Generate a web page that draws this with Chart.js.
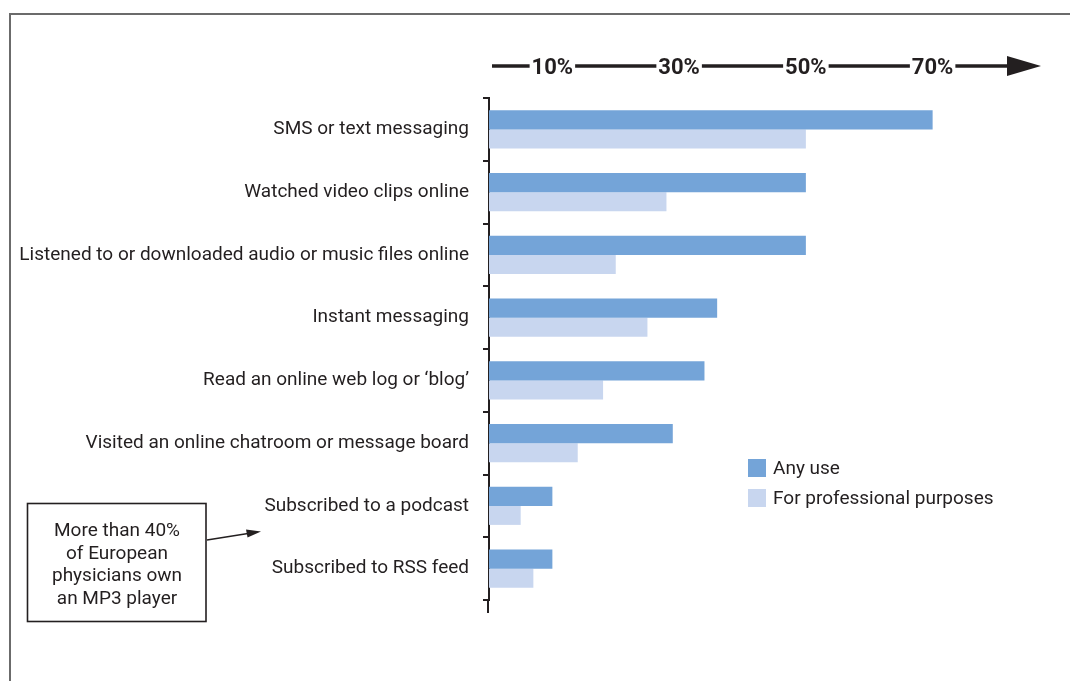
<!DOCTYPE html>
<html>
<head>
<meta charset="utf-8">
<script src="https://cdn.jsdelivr.net/npm/chart.js@4"></script>
<style>
	html, body {
		margin: 0;
		padding: 0;
		background: #ffffff;
	}
	#wrap {
		position: relative;
		width: 1070px;
		height: 681px;
		overflow: hidden;
	}
	#frame {
		position: absolute;
		left: 9px;
		top: 13px;
		width: 1200px;
		height: 800px;
		border-top: 2px solid #6b6b6b;
		border-left: 2px solid #6b6b6b;
	}
	#usage {
		position: absolute;
		left: 0;
		top: 0;
	}
</style>
</head>
<body>
<div id="wrap">
	<div id="frame"></div>
	<canvas id="usage" width="1070" height="681"></canvas>
</div>
<script>
const categories = [
	"SMS or text messaging",
	"Watched video clips online",
	"Listened to or downloaded audio or music files online",
	"Instant messaging",
	"Read an online web log or \u2018blog\u2019",
	"Visited an online chatroom or message board",
	"Subscribed to a podcast",
	"Subscribed to RSS feed"
];
const seriesLabels = ["Any use", "For professional purposes"];
const anyUse = [70, 50, 50, 36, 34, 29, 10, 10];
const professionalUse = [50, 28, 20, 25, 18, 14, 5, 7];
const axisTicks = [10, 30, 50, 70];
const noteLines = ["More than 40%", "of European", "physicians own", "an MP3 player"];

const ink = "#231f20";
const face = "Roboto, 'Liberation Sans', sans-serif";
const textSize = 19;

Chart.defaults.font.family = face;
Chart.defaults.color = ink;

// long arrow running through the percentage labels at the top
const arrowAxis = {
	id: "arrowAxis",
	beforeDraw: (chart) => {
		const {ctx, chartArea} = chart;
		const y = chartArea.top - 32;
		ctx.save();
		ctx.strokeStyle = ink;
		ctx.fillStyle = ink;
		ctx.lineWidth = 3.5;
		ctx.beginPath();
		ctx.moveTo(chartArea.left + 3, y);
		ctx.lineTo(1010, y);
		ctx.stroke();
		ctx.beginPath();
		ctx.moveTo(1007, y - 10);
		ctx.lineTo(1041, y);
		ctx.lineTo(1007, y + 10);
		ctx.closePath();
		ctx.fill();
		ctx.restore();
	}
};

// legend squares to the right of the lower bars
const boxLegend = {
	id: "boxLegend",
	afterDraw: (chart) => {
		const {ctx} = chart;
		ctx.save();
		ctx.font = textSize + "px " + face;
		ctx.textBaseline = "middle";
		ctx.textAlign = "left";
		chart.data.datasets.forEach((dataset, i) => {
			const top = 459 + i * 30;
			ctx.fillStyle = dataset.backgroundColor;
			ctx.fillRect(748, top, 18, 18);
			ctx.fillStyle = ink;
			ctx.fillText(dataset.label, 773, top + 10);
		});
		ctx.restore();
	}
};

// boxed note with its pointer, plus the tail of the category axis
const sideNote = {
	id: "sideNote",
	afterDraw: (chart) => {
		const {ctx, chartArea} = chart;
		ctx.save();
		ctx.strokeStyle = ink;
		ctx.lineWidth = 2;
		ctx.beginPath();
		ctx.moveTo(chartArea.left - 1, chartArea.bottom);
		ctx.lineTo(chartArea.left - 1, chartArea.bottom + 13);
		ctx.stroke();

		ctx.lineWidth = 1.6;
		ctx.strokeRect(27.5, 503.5, 178.5, 118);
		ctx.fillStyle = ink;
		ctx.font = textSize + "px " + face;
		ctx.textAlign = "center";
		ctx.textBaseline = "alphabetic";
		noteLines.forEach((line, i) => {
			ctx.fillText(line, 117, 536 + i * 22.7);
		});

		ctx.beginPath();
		ctx.moveTo(207, 540);
		ctx.lineTo(248, 533.5);
		ctx.stroke();
		ctx.beginPath();
		ctx.moveTo(261, 531.5);
		ctx.lineTo(246, 529.5);
		ctx.lineTo(247.5, 537.5);
		ctx.closePath();
		ctx.fill();
		ctx.restore();
	}
};

const data = {
	labels: categories,
	datasets: [
		{
			label: seriesLabels[0],
			data: anyUse,
			backgroundColor: "#74a4d8"
		},
		{
			label: seriesLabels[1],
			data: professionalUse,
			backgroundColor: "#c8d6ef"
		}
	]
};

const config = {
	type: "bar",
	data,
	options: {
		indexAxis: "y",
		responsive: false,
		maintainAspectRatio: false,
		animation: false,
		layout: {
			padding: {left: 0, top: 0, right: 74, bottom: 81}
		},
		datasets: {
			bar: {
				barPercentage: 1,
				categoryPercentage: 0.606
			}
		},
		plugins: {
			legend: {display: false},
			tooltip: {enabled: false}
		},
		scales: {
			x: {
				position: "top",
				min: 0,
				max: 80,
				grid: {display: false},
				border: {display: false},
				afterBuildTicks: (scale) => {
					scale.ticks = axisTicks.map((value) => ({value}));
				},
				afterFit: (scale) => {
					scale.height = 98;
				},
				ticks: {
					callback: (value) => value + "%",
					font: {size: 22, weight: "bold"},
					color: ink,
					padding: 8,
					maxRotation: 0,
					showLabelBackdrop: true,
					backdropColor: "#ffffff",
					backdropPadding: {left: 2, right: 2, top: 2, bottom: 2}
				}
			},
			y: {
				grid: {
					display: true,
					drawOnChartArea: false,
					drawTicks: true,
					tickLength: 6,
					color: ink,
					lineWidth: 2,
					offset: true
				},
				border: {display: true, color: ink, width: 2},
				afterFit: (scale) => {
					scale.width = 489;
				},
				ticks: {
					font: {size: textSize},
					color: ink,
					padding: 14,
					autoSkip: false
				}
			}
		}
	},
	plugins: [arrowAxis, boxLegend, sideNote]
};

new Chart(document.getElementById("usage"), config);
</script>
</body>
</html>
